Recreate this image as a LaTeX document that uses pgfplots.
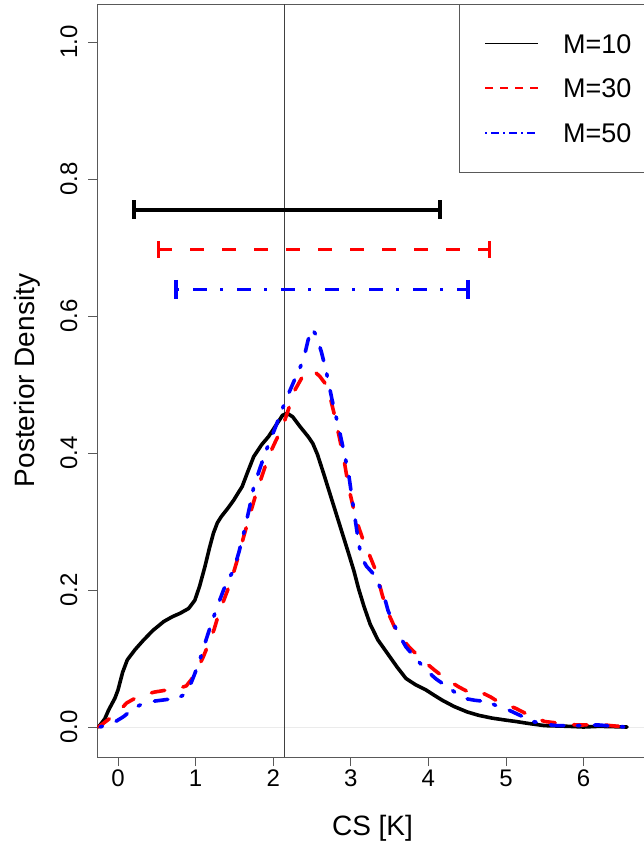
\documentclass[border=0pt]{standalone}
\usepackage{pgfplots}
\pgfplotsset{compat=1.18}
\usepackage{fontspec}
\setmainfont{Liberation Sans}

\tikzset{
  rsolid/.style={line width=3.6pt, line cap=round, line join=round},
  rdash/.style={line width=3.6pt, line cap=round, line join=round, dash pattern=on 13.5pt off 18.5pt},
  rdotdash/.style={line width=3.6pt, line cap=round, line join=round, dash pattern=on 2.5pt off 14.5pt on 13.5pt off 13.5pt},
}

\begin{document}
\begin{tikzpicture}[x=1pt,y=1pt]
\path[use as bounding box] (0,0) rectangle (643,-841);
\begin{axis}[
  at={(97pt,-757pt)}, anchor=south west,
  scale only axis,
  width=551pt, height=753pt,
  xmin=-0.2706, xmax=6.830,
  ymin=-0.0438, ymax=1.0555,
  xtick={0,1,2,3,4,5,6},
  ytick={0,0.2,0.4,0.6,0.8,1.0},
  yticklabels={0.0,0.2,0.4,0.6,0.8,1.0},
  tick pos=left,
  tick align=outside,
  major tick length=9pt,
  axis line style={black!65, line width=0.9pt},
  tick style={black!65, line width=0.9pt},
  tick label style={font=\fontsize{24}{28}\selectfont},
  /pgf/number format/assume math mode=true,
  yticklabel style={rotate=90, anchor=base, yshift=11pt},
  xlabel={CS [K]},
  ylabel={Posterior Density},
  label style={font=\fontsize{28}{32}\selectfont},
  xlabel style={at={(axis description cs:0.5,0)}, anchor=base, yshift=-78pt},
  ylabel style={at={(axis description cs:0,0.5)}, anchor=base, yshift=62pt},
  clip=true,
]
% reference lines
\draw[black!8, line width=0.8pt] (axis cs:-0.2706,0) -- (axis cs:6.83,0);
\draw[black!75, line width=0.8pt] (axis cs:2.15,-0.0438) -- (axis cs:2.15,1.0555);

% M=10
\addplot[black, rsolid] coordinates {
(-0.25,0) (-0.23,0.003) (-0.17,0.012) (-0.12,0.025) (-0.04,0.042) (0.0,0.054)
(0.06,0.080) (0.12,0.098) (0.22,0.113) (0.33,0.127) (0.45,0.141) (0.59,0.154)
(0.70,0.161) (0.80,0.166) (0.91,0.173) (0.99,0.185) (1.05,0.205) (1.12,0.234)
(1.18,0.262) (1.23,0.283) (1.28,0.298) (1.33,0.307) (1.42,0.320) (1.49,0.331)
(1.55,0.342) (1.60,0.351) (1.67,0.372) (1.75,0.395) (1.85,0.412) (1.94,0.424)
(2.05,0.443) (2.12,0.455) (2.18,0.458) (2.25,0.453) (2.35,0.438) (2.45,0.424)
(2.51,0.414) (2.57,0.398) (2.65,0.370) (2.73,0.341) (2.81,0.312) (2.89,0.283)
(2.97,0.254) (3.04,0.228) (3.10,0.202) (3.17,0.176) (3.25,0.150) (3.35,0.127)
(3.50,0.103) (3.60,0.087) (3.71,0.071) (3.83,0.062) (3.97,0.054) (4.08,0.046)
(4.18,0.039) (4.33,0.030) (4.50,0.022) (4.65,0.017) (4.82,0.013) (5.00,0.010)
(5.13,0.008) (5.30,0.005) (5.50,0.002) (5.80,0.001) (6.00,0.000) (6.20,0.001)
(6.56,0)
};

% M=30
\addplot[red, rdash] coordinates {
(-0.25,0) (-0.10,0.013) (0.03,0.025) (0.11,0.035) (0.22,0.042) (0.33,0.047)
(0.47,0.051) (0.63,0.054) (0.80,0.057) (0.88,0.060) (0.95,0.070) (1.01,0.083)
(1.09,0.100) (1.17,0.122) (1.24,0.143) (1.30,0.166) (1.38,0.190) (1.46,0.214)
(1.54,0.245) (1.62,0.278) (1.70,0.310) (1.78,0.341) (1.86,0.368) (1.94,0.395)
(2.03,0.417) (2.12,0.438) (2.20,0.465) (2.28,0.492) (2.38,0.512) (2.46,0.520)
(2.52,0.520) (2.60,0.512) (2.70,0.497) (2.78,0.460) (2.86,0.419) (2.92,0.385)
(2.97,0.351) (3.07,0.302) (3.15,0.276) (3.23,0.254) (3.33,0.226) (3.40,0.195)
(3.46,0.172) (3.60,0.137) (3.75,0.117) (3.92,0.098) (4.08,0.083) (4.24,0.069)
(4.40,0.058) (4.55,0.049) (4.69,0.050) (4.80,0.044) (4.87,0.039) (5.00,0.033)
(5.13,0.027) (5.30,0.017) (5.50,0.008) (5.65,0.006) (5.77,0.005) (5.90,0.003)
(6.00,0.003) (6.19,0.004) (6.35,0.002) (6.56,0)
};

% M=50
\addplot[blue, rdotdash] coordinates {
(-0.23,0) (-0.06,0.006) (0.07,0.015) (0.20,0.027) (0.30,0.033) (0.41,0.037)
(0.55,0.039) (0.76,0.042) (0.85,0.047) (0.92,0.058) (0.99,0.078) (1.06,0.100)
(1.12,0.122) (1.20,0.150) (1.28,0.176) (1.36,0.200) (1.42,0.215) (1.49,0.229)
(1.56,0.256) (1.62,0.283) (1.69,0.318) (1.75,0.351) (1.83,0.378) (1.91,0.404)
(2.02,0.435) (2.12,0.465) (2.18,0.482) (2.28,0.508) (2.39,0.536) (2.45,0.565)
(2.50,0.581) (2.55,0.573) (2.62,0.548) (2.68,0.521) (2.76,0.477) (2.86,0.429)
(2.97,0.371) (3.02,0.331) (3.08,0.285) (3.13,0.250) (3.20,0.235) (3.28,0.225)
(3.35,0.210) (3.42,0.195) (3.48,0.170) (3.55,0.151) (3.63,0.133) (3.71,0.117)
(3.84,0.100) (3.97,0.083) (4.10,0.070) (4.24,0.059) (4.35,0.050) (4.45,0.042)
(4.60,0.039) (4.76,0.037) (4.90,0.030) (5.03,0.025) (5.20,0.016) (5.35,0.008)
(5.50,0.004) (5.66,0.002) (5.90,0.002) (6.19,0.003) (6.40,0.001) (6.56,0)
};

% credible intervals
\addplot[black, rsolid, line cap=butt, mark=|, mark size=9.5pt, mark options={solid, line width=3.6pt}]
  coordinates {(0.21,0.755) (4.15,0.755)};
\addplot[red, rdash, line cap=butt, mark=|, mark size=8.5pt, mark options={solid, line width=3.6pt}]
  coordinates {(0.52,0.697) (4.79,0.697)};
\addplot[blue, rdotdash, line cap=butt, mark=|, mark size=9.5pt, mark options={solid, line width=3.6pt}]
  coordinates {(0.75,0.639) (4.51,0.639)};
\end{axis}

% legend
\draw[black!65, line width=0.9pt, fill=white] (459,-4) rectangle (700,-172);
\draw[black, line width=1.2pt] (485,-43.5) -- (538,-43.5);
\draw[red, line width=1.2pt, dash pattern=on 8pt off 7pt] (485,-88) -- (538,-88);
\draw[blue, line width=1.2pt, dash pattern=on 2pt off 4pt on 8pt off 4pt] (485,-133) -- (538,-133);
\node[anchor=base west, inner sep=0pt, font=\fontsize{27}{30}\selectfont] at (563,-53) {M=10};
\node[anchor=base west, inner sep=0pt, font=\fontsize{27}{30}\selectfont] at (563,-97.5) {M=30};
\node[anchor=base west, inner sep=0pt, font=\fontsize{27}{30}\selectfont] at (563,-142) {M=50};
\end{tikzpicture}
\end{document}
